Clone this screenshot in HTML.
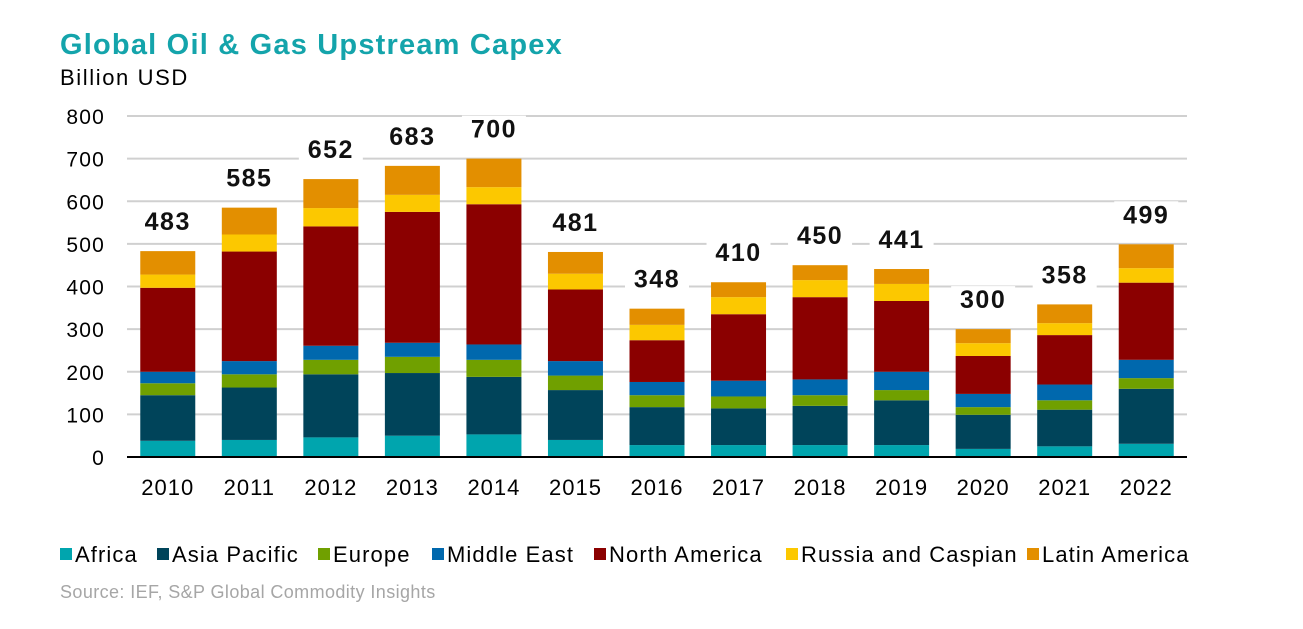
<!DOCTYPE html>
<html><head><meta charset="utf-8"><style>
body{margin:0;background:#fff;font-family:"Liberation Sans",Arial,sans-serif;}
svg text{font-family:"Liberation Sans",Arial,sans-serif;}
</style></head><body>
<svg id="chart" width="1303" height="624">
<text x="60" y="54" font-size="29" font-weight="bold" fill="#14a4ab" letter-spacing="1.2">Global Oil &amp; Gas Upstream Capex</text>
<text x="60" y="85" font-size="22" fill="#000" letter-spacing="1.6">Billion USD</text>
<g id="grid"></g><g id="bars"></g><g id="labels"></g><g id="legend"></g>
<text x="60" y="598" font-size="18" fill="#a6a6a6" letter-spacing="0.4">Source: IEF, S&amp;P Global Commodity Insights</text>
</svg>
<script>
const years=["2010","2011","2012","2013","2014","2015","2016","2017","2018","2019","2020","2021","2022"];
const africa=[38,40,46,50,53,40,28,28,28,28,19,25,31];
const asiaPacific=[107,123,148,147,135,117,89,86,92,105,80,86,129];
const europe=[28,31,34,38,40,34,28,28,25,24,18,22,25];
const middleEast=[27,31,33,33,36,34,31,37,37,43,31,37,43];
const northAmerica=[197,257,280,307,329,168,98,156,193,166,89,116,181];
const russiaCaspian=[31,40,43,40,40,37,36,40,40,40,30,28,34];
const latinAmerica=[55,63,68,68,67,51,38,35,35,35,33,44,56];
const totals=[483,585,652,683,700,481,348,410,450,441,300,358,499];
const yTicks=[0,100,200,300,400,500,600,700,800];
const seriesNames=["Africa","Asia Pacific","Europe","Middle East","North America","Russia and Caspian","Latin America"];
const seriesData=[africa,asiaPacific,europe,middleEast,northAmerica,russiaCaspian,latinAmerica];
const colors=["#00a5ae","#00445a","#70a000","#0068ad","#8b0000","#fcc800","#e38f00"];
const NS="http://www.w3.org/2000/svg";
const x0=127,x1=1187,y0=457,y1=116,yMax=800;
const band=(x1-x0)/years.length,bw=55;
function y(v){return y0-(v/yMax)*(y0-y1);}
function xc(i){return x0+band*(i+0.5);}
function mk(t,a,p){const e=document.createElementNS(NS,t);for(const k in a)e.setAttribute(k,a[k]);p.appendChild(e);return e;}
const grid=document.getElementById('grid');
yTicks.forEach(t=>{
 if(t>0){const l=mk('line',{x1:x0,x2:x1,y1:y(t),y2:y(t),stroke:'#d0d0d0','stroke-width':2},grid);
 
 }
 const tx=mk('text',{x:105,y:y(t)+8,'font-size':21,'letter-spacing':1.2,'text-anchor':'end',fill:'#000'},grid);tx.textContent=t;
 
 
});
const bars=document.getElementById('bars'),labels=document.getElementById('labels');
years.forEach((yr,i)=>{
 let acc=0;
 seriesData.forEach((s,j)=>{
  const r=mk('rect',{x:xc(i)-bw/2,y:y(acc+s[i]),width:bw,height:y(acc)-y(acc+s[i]),fill:colors[j]},bars);
  
  
  acc+=s[i];
 });
 const ty=y(acc)-21;
 mk('rect',{x:xc(i)-32,y:ty-22,width:64,height:30,fill:'#fff'},labels);
 const t=mk('text',{x:xc(i),y:ty,'font-size':25,'font-weight':'bold','letter-spacing':1.5,'text-anchor':'middle',fill:'#111'},labels);t.textContent=totals[i];
 
 
 const xl=mk('text',{x:xc(i),y:495,'font-size':22,'letter-spacing':1,'text-anchor':'middle',fill:'#000'},labels);xl.textContent=yr;
 
 
});
const ax=mk('line',{x1:x0,x2:x1,y1:y0,y2:y0,stroke:'#000','stroke-width':2},labels);


const lg=document.getElementById('legend');
const lx=[60,157,318,432,594,786,1027];
seriesNames.forEach((n,j)=>{
 const g=mk('g',{},lg);
 
 
 mk('rect',{x:lx[j],y:548,width:12,height:12,fill:colors[j]},g);
 const t=mk('text',{x:lx[j]+15,y:562,'font-size':22,'letter-spacing':1.1,fill:'#000'},g);t.textContent=n;
});
</script>
</body></html>
